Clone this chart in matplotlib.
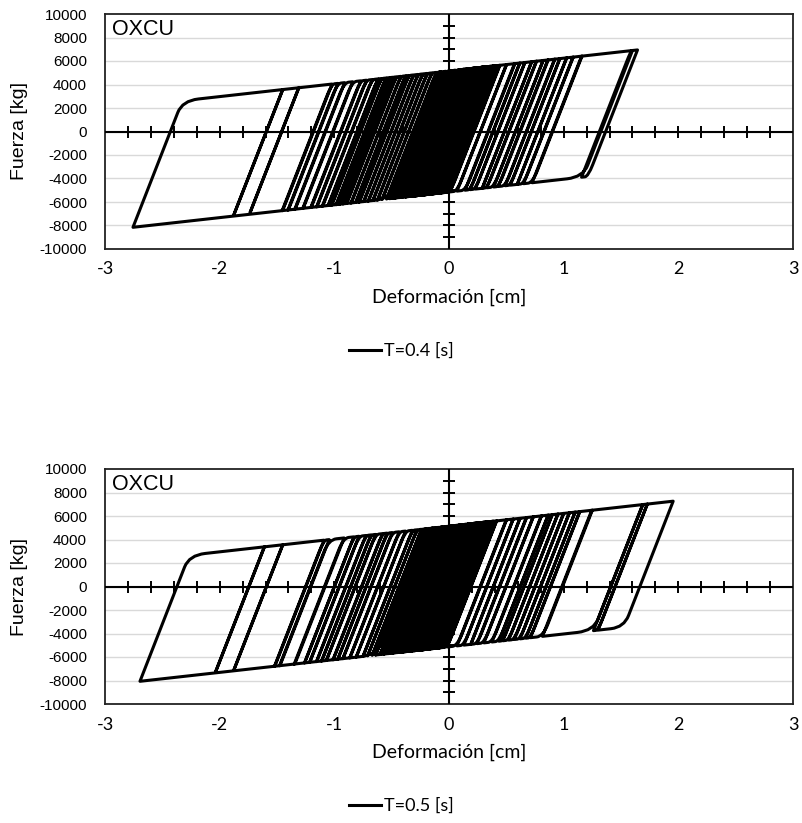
import numpy as np
import matplotlib
matplotlib.use("Agg")
import matplotlib.pyplot as plt
from matplotlib.lines import Line2D
from matplotlib.path import Path
from matplotlib.patches import PathPatch

# ---------------------------------------------------------------- data
X_TICKS = [-3, -2, -1, 0, 1, 2, 3]
Y_TICKS = list(range(-10000, 10001, 2000))
PANEL_TITLE = "OXCU"
X_LABEL = "Deformación [cm]"
Y_LABEL = "Fuerza [kg]"
SERIES_LABELS = ["T=0.4 [s]", "T=0.5 [s]"]

# bilinear (kinematic hardening) element: force intercept at zero
# deformation [kg], elastic and post-yield stiffness [kg/cm]
T04_YIELD_FORCE = 5150
T04_K_ELASTIC = 25000
T04_K_HARDENING = 1090

T05_YIELD_FORCE = 5130
T05_K_ELASTIC = 25000
T05_K_HARDENING = 1090

# successive reversal deformations [cm]
T04_PEAKS = [
    0.30, -0.22, 0.36, -0.28, 0.26, -0.38, 0.18, -0.30, 0.40,
    1.644, 1.156, 1.60, 0.725, 1.16,
    0.65, 1.083, 0.595, 1.025, 0.535, 0.967, 0.49, 0.923, 0.43, 0.865,
    0.39, 0.821, 0.33, 0.764, 0.29, 0.72, 0.23, 0.662, 0.185, 0.618,
    0.14, 0.575, 0.07, 0.502, 0.01, 0.444,
    -0.05, 0.40, -0.10, 0.35, -0.15, 0.30, -0.20, 0.25, -0.24, 0.21,
    -0.28, 0.17, -0.32, 0.13, -0.36, 0.09, -0.40, 0.05, -0.44, 0.01,
    -0.48, -0.03, -0.52, -0.08,
    -2.756, -1.45, -1.875, -1.31, -1.735, -1.02, -1.455, -0.97, -1.405,
    -0.91, -1.345, -0.84, -1.275, -0.77, -1.205, -0.72, -1.155, -0.67,
    -1.105, -0.62, -1.055, -0.59, -1.025, -0.55, -0.985, -0.52, -0.955,
    -0.49, -0.925, -0.46, -0.895, -0.42, -0.855, -0.38, -0.815, -0.35,
    -0.785, -0.31, -0.745, -0.27, -0.705, -0.23, -0.665, -0.19, -0.625,
    -0.15, -0.585, -0.11, -0.545,
    -0.07, -0.50, -0.03, -0.47, 0.02, -0.42, 0.06, -0.38, 0.11, -0.34,
    0.15, -0.30, 0.19, -0.26, 0.23, -0.22, 0.27, -0.18, 0.31, -0.14,
    0.34, -0.11, 0.38, -0.07, 0.42, -0.02, 0.30, -0.35, 0.10, -0.25, 0.0,
]

T05_PEAKS = [
    0.28, -0.25, 0.32, -0.30, 0.22, -0.40, 0.12, -0.30, 0.35,
    1.955, 1.30, 1.73, 1.26, 1.69, 0.815, 1.25,
    0.71, 1.141, 0.67, 1.10, 0.62, 1.05, 0.57, 1.00, 0.52, 0.95, 0.47,
    0.90, 0.435, 0.865, 0.375, 0.807, 0.305, 0.735, 0.245, 0.677, 0.19,
    0.618, 0.13, 0.56, 0.07, 0.502, -0.015, 0.415,
    -0.06, 0.38, -0.10, 0.34, -0.15, 0.30, -0.19, 0.26, -0.23, 0.22,
    -0.27, 0.18, -0.31, 0.14, -0.35, 0.10, -0.39, 0.06, -0.43, 0.02,
    -0.47, -0.02, -0.51, -0.06, -0.55, -0.10, -0.60, -0.14, -0.64, -0.20,
    -2.695, -1.61, -2.035, -1.45, -1.875, -1.09, -1.522, -1.045, -1.478,
    -0.915, -1.35, -0.83, -1.26, -0.785, -1.216, -0.725, -1.156, -0.68,
    -1.112, -0.64, -1.07, -0.58, -1.012, -0.54, -0.97, -0.495, -0.926,
    -0.435, -0.866, -0.38, -0.81, -0.32, -0.75, -0.28, -0.71, -0.24, -0.67,
    -0.21, -0.64, -0.17, -0.60, -0.13, -0.57, -0.09, -0.53, -0.05, -0.49,
    -0.01, -0.45, 0.03, -0.41, 0.07, -0.37, 0.11, -0.33, 0.15, -0.29,
    0.19, -0.25, 0.23, -0.21, 0.27, -0.17, 0.31, -0.13, 0.35, -0.09,
    0.39, -0.05, 0.20, -0.30, 0.05,
]


def hysteresis_path(peaks, fy, k0, k1):
    """Vertices of a bilinear kinematic-hardening loop driven through
    the given reversal deformations, starting from rest.  The flag list
    marks the vertices where an elastic branch that started on the
    opposite yield line reaches the yield line again."""
    x, f = 0.0, 0.0
    xs, fs, yld = [x], [f], [False]
    for target in peaks:
        d = np.sign(target - x)
        if d == 0:
            continue
        from_opposite = abs(f - (-d * fy + k1 * x)) < 1.0
        x_yield = (d * fy - f + k0 * x) / (k0 - k1)
        if (x_yield - x) * d < (target - x) * d:
            xs.append(x_yield)
            fs.append(d * fy + k1 * x_yield)
            yld.append(from_opposite)
            x, f = target, d * fy + k1 * target
        else:
            f = f + k0 * (target - x)
            x = target
        xs.append(x)
        fs.append(f)
        yld.append(False)
    return np.array(xs), np.array(fs), yld


def smooth_yield_path(xs, fs, yld, dx_in=0.04, dx_out=0.14):
    """Path through the vertices with a quadratic fillet at each onset
    of yielding (reversal points stay sharp)."""
    verts = [(xs[0], fs[0])]
    codes = [Path.MOVETO]
    n = len(xs)
    for i in range(1, n):
        c = np.array([xs[i], fs[i]])
        if yld[i] and i + 1 < n:
            p = np.array([xs[i - 1], fs[i - 1]])
            q = np.array([xs[i + 1], fs[i + 1]])
            span_in = abs(c[0] - p[0])
            span_out = abs(q[0] - c[0])
            s_in = min(dx_in, 0.5 * span_in) / span_in if span_in > 0 else 0
            s_out = min(dx_out, 0.5 * span_out) / span_out if span_out > 0 else 0
            a = c + (p - c) * s_in
            b = c + (q - c) * s_out
            verts += [tuple(a), tuple(c), tuple(b)]
            codes += [Path.LINETO, Path.CURVE3, Path.CURVE3]
        else:
            verts.append(tuple(c))
            codes.append(Path.LINETO)
    return Path(verts, codes)


# ---------------------------------------------------------------- figure
W, H = 802, 823
fig = plt.figure(figsize=(W / 100, H / 100), dpi=100)

SANS = ["Liberation Sans", "DejaVu Sans"]
HUMANIST = ["Lato", "DejaVu Sans"]

panels = [
    (14, T04_PEAKS, T04_YIELD_FORCE, T04_K_ELASTIC, T04_K_HARDENING, SERIES_LABELS[0]),
    (469, T05_PEAKS, T05_YIELD_FORCE, T05_K_ELASTIC, T05_K_HARDENING, SERIES_LABELS[1]),
]

ax_left, ax_w, ax_h = 105, 688, 235

for top, peaks, fy, k0, k1, label in panels:
    ax = fig.add_axes([ax_left / W, 1 - (top + ax_h) / H, ax_w / W, ax_h / H])
    ax.set_xlim(X_TICKS[0], X_TICKS[-1])
    ax.set_ylim(Y_TICKS[0], Y_TICKS[-1])

    for y in Y_TICKS[1:-1]:
        ax.axhline(y, color="#d9d9d9", lw=1.0, zorder=0)

    xs, fs, yld = hysteresis_path(peaks, fy, k0, k1)
    curve = PathPatch(smooth_yield_path(xs, fs, yld), fill=False,
                      edgecolor="black", lw=2.2, zorder=3,
                      joinstyle="round", capstyle="round")
    ax.add_patch(curve)

    # axes through the origin with crossing tick marks
    ax.axhline(0, color="black", lw=1.5, zorder=4)
    ax.axvline(0, color="black", lw=1.5, zorder=4)
    minor_x = np.arange(-2.8, 2.81, 0.2)
    ax.plot(minor_x, np.zeros_like(minor_x), ls="none", marker="|",
            ms=9, mew=1.4, color="black", zorder=4)
    minor_y = np.arange(-9000, 9001, 1000)
    ax.plot(np.zeros_like(minor_y), minor_y, ls="none", marker="_",
            ms=9, mew=1.4, color="black", zorder=4)

    for sp in ax.spines.values():
        sp.set_color("#222222")
        sp.set_linewidth(1.3)

    ax.set_xticks(X_TICKS)
    ax.set_xticklabels([str(v) for v in X_TICKS], family=HUMANIST, fontsize=13)
    ax.set_yticks(Y_TICKS)
    ax.set_yticklabels([str(v) for v in Y_TICKS], family=SANS, fontsize=11)
    ax.tick_params(axis="x", length=0, pad=9)
    ax.tick_params(axis="y", length=0, pad=13)

    ax.text(7 / ax_w, 1 - 5 / ax_h, PANEL_TITLE, transform=ax.transAxes,
            ha="left", va="top", family=SANS, fontsize=15.5)

    fig.text(20 / W, 1 - (top + ax_h / 2) / H, Y_LABEL, rotation=90,
             ha="center", va="center", family=SANS, fontsize=14)
    fig.text((ax_left + ax_w / 2) / W, 1 - (top + 283) / H, X_LABEL,
             ha="center", va="center", family=HUMANIST, fontsize=14)

    handle = Line2D([], [], color="black", lw=2.2)
    fig.legend([handle], [label], loc="center",
               bbox_to_anchor=(401 / W, 1 - (top + 337) / H),
               frameon=False, handlelength=1.8, handletextpad=0.15,
               prop={"family": HUMANIST, "size": 13})

fig.savefig("out.png", dpi=100)
